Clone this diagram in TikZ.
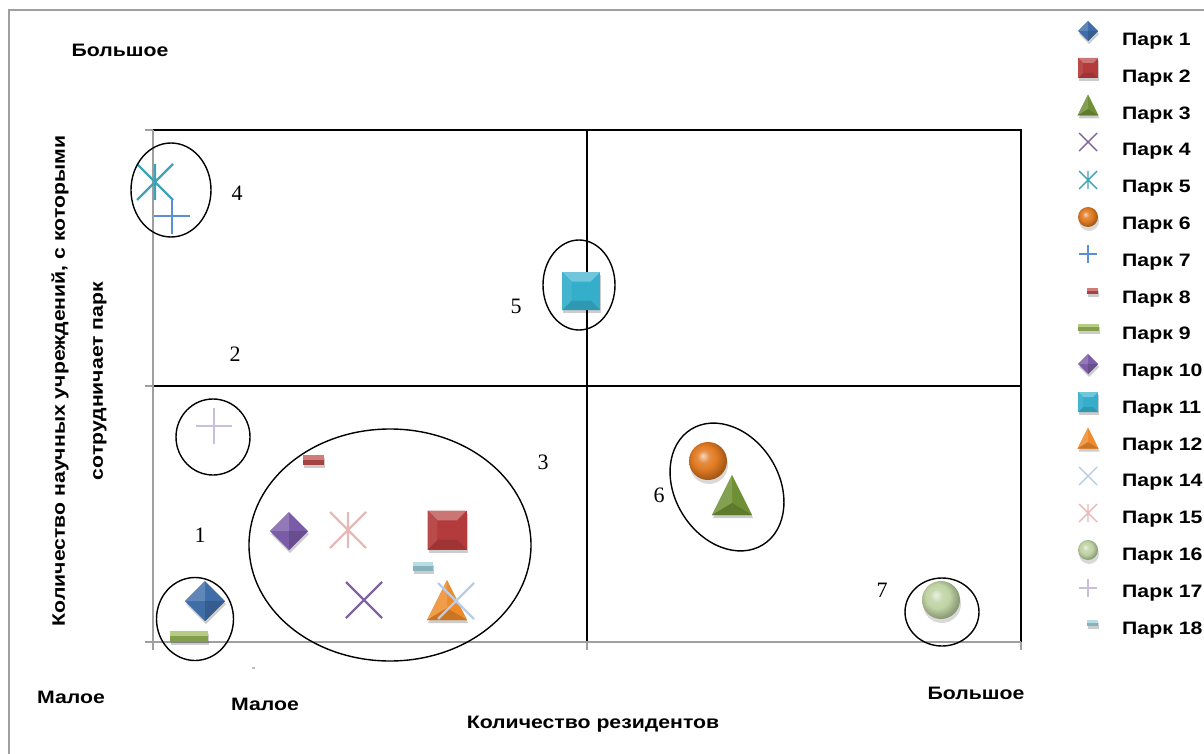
\documentclass[tikz,border=0pt]{standalone}
\usepackage{fontspec}
\setmainfont{Liberation Sans}[FakeStretch=1.18]
\newfontfamily\numfont{Liberation Serif}
\usetikzlibrary{shapes.geometric,shadows}

\definecolor{p1}{HTML}{3E6DA8}
\definecolor{p2}{HTML}{B33B3B}
\definecolor{p3}{HTML}{6E8F35}
\definecolor{p4}{HTML}{8064A2}
\definecolor{p5}{HTML}{3FA3B5}
\definecolor{p6}{HTML}{E07A22}
\definecolor{p7}{HTML}{5B8FD3}
\definecolor{p8}{HTML}{C0504D}
\definecolor{p9}{HTML}{9BBB59}
\definecolor{p10}{HTML}{7A5BA8}
\definecolor{p11}{HTML}{35AECB}
\definecolor{p12}{HTML}{EE8A2A}
\definecolor{p14}{HTML}{B9CDE5}
\definecolor{p15}{HTML}{E6B9B8}
\definecolor{p16}{HTML}{BFD3A3}
\definecolor{p17}{HTML}{C9BFDD}
\definecolor{p18}{HTML}{9FD0DE}
\colorlet{sphc}{p6}
\pgfdeclareradialshading[sphc]{sphere}{\pgfpoint{-7bp}{7bp}}{%
  color(0bp)=(sphc!30!white); color(8bp)=(sphc!85!white); color(16bp)=(sphc);
  color(26bp)=(sphc!75!black); color(34bp)=(sphc!65!black); color(50bp)=(sphc!65!black)}

\tikzset{
  lbl/.style={font=\fontsize{18}{38}\selectfont\bfseries, inner sep=0pt},
  num/.style={font=\numfont\fontsize{22}{24}\selectfont, inner sep=0pt},
  grp/.style={draw, ellipse, line width=1.4pt, inner sep=0pt},
  axisline/.style={draw=gray!75, line width=1.3pt},
  quad/.style={line width=1.3pt},
  shd/.style={drop shadow={fill=black, opacity=0.2, shadow xshift=1pt, shadow yshift=-3pt}},
}

% markers: x, y, size, colour (or line style)
\newcommand{\mdia}[4]{%
  \begin{scope}[shift={(#1,#2)},scale=#3]
    \fill[#4, shd] (-1,0) -- (0,-1) -- (1,0) -- (0,1) -- cycle;
    \fill[#4!82!white] (-1,0) -- (0,-1) -- (0,0) -- cycle;
    \fill[#4!85!black] (0,1) -- (1,0) -- (0,0) -- cycle;
  \end{scope}}
\newcommand{\msq}[4]{%
  \begin{scope}[shift={(#1,#2)},scale=#3]
    \fill[#4, shd] (-1,-1) rectangle (1,1);
    \fill[#4!70!white] (-1,-1) -- (1,-1) -- (0.5,-0.5) -- (-0.5,-0.5) -- cycle;
    \fill[#4!88!black] (-1,1) -- (1,1) -- (0.5,0.5) -- (-0.5,0.5) -- cycle;
    \fill[#4!92!white] (-1,-1) -- (-0.5,-0.5) -- (-0.5,0.5) -- (-1,1) -- cycle;
  \end{scope}}
\newcommand{\mtri}[4]{%
  \begin{scope}[shift={(#1,#2)},scale=#3]
    \fill[#4, shd] (0,-1) -- (1,1) -- (-1,1) -- cycle;
    \fill[#4!85!white] (0,-1) -- (-1,1) -- (0,0.4) -- cycle;
    \fill[#4!85!black] (-1,1) -- (1,1) -- (0,0.4) -- cycle;
  \end{scope}}
\newcommand{\mball}[4]{%
  \begin{scope}[shift={(#1,#2)}]
    \colorlet{sphc}{#4}
    \fill[black, opacity=0.15] (1,4) circle[radius=#3pt];
    \shade[shading=sphere] (0,0) circle[radius=#3pt];
  \end{scope}}
\newcommand{\mbar}[5]{%
  \begin{scope}[shift={(#1,#2)}]
    \fill[#5!85!black, shd] (-#3,-#4) rectangle (#3,#4);
    \fill[#5!75!white] (-#3,-#4) rectangle (#3,0);
  \end{scope}}
\newcommand{\mcross}[4]{%
  \begin{scope}[shift={(#1,#2)},scale=#3]
    \draw[#4] (-1,-1) -- (1,1) (-1,1) -- (1,-1);
  \end{scope}}
\newcommand{\mplus}[4]{%
  \begin{scope}[shift={(#1,#2)},scale=#3]
    \draw[#4] (-1,0) -- (1,0) (0,-1) -- (0,1);
  \end{scope}}
\newcommand{\mstar}[4]{%
  \begin{scope}[shift={(#1,#2)},scale=#3]
    \draw[#4] (-1,-1) -- (1,1) (-1,1) -- (1,-1) (0,-1) -- (0,1);
  \end{scope}}

\begin{document}
\begin{tikzpicture}[x=1pt,y=-1pt]
\useasboundingbox (0,0) rectangle (1204,754);
\draw[gray!75, line width=1.3pt] (9,754) -- (9,10) -- (1204,10);

% quadrants
\draw[quad] (153,130) -- (1021,130) -- (1021,642);
\draw[quad] (153,386) -- (1021,386);
\draw[quad] (587,130) -- (587,642);
\draw[axisline] (153,130) -- (153,650);
\draw[axisline] (145,642) -- (1021,642);
\foreach \t in {130,386,642} \draw[axisline] (145,\t) -- (153,\t);
\foreach \t in {587,1021} \draw[axisline] (\t,642) -- (\t,650);
\fill[gray!50] (252,667) rectangle (255,669);

% axis titles
\node[lbl] (ybig) at (120,50) {Большое};
\node[lbl] (ysmall) at (71,697) {Малое};
\node[lbl] (xsmall) at (265,704) {Малое};
\node[lbl] (xbig) at (976,693) {Большое};
\node[lbl] (xtitle) at (593,724) {Количество резидентов};
\node[lbl, rotate=90, align=center] (ytitle) at (79,381)
  {Количество научных учреждений, с которыми\\сотрудничает парк};

% parks
\mstar{155}{182}{18}{p5, line width=2.3pt}
\mplus{172}{216}{18}{p7, line width=2.3pt}
\msq{581}{291}{19}{p11}
\mplus{214}{426}{18}{p17, line width=2.3pt}
\mbar{313}{460}{10.5}{5}{p8}
\mdia{289}{531}{19}{p10}
\mstar{348}{530}{18}{p15, line width=2.3pt}
\msq{447}{530}{19.5}{p2}
\mbar{423}{566}{10}{4.5}{p18}
\mcross{364}{600}{18}{p4, line width=2.3pt}
\mtri{447}{600}{20}{p12}
\mcross{456}{601}{18}{p14, line width=2.3pt}
\mdia{205}{601}{20}{p1}
\mbar{189}{636}{19}{5.5}{p9}
\mball{708}{461}{19}{p6}
\mtri{732}{495}{20}{p3}
\mball{941}{600}{19}{p16}

% groups
\node[grp, minimum width=80pt, minimum height=94pt] (g4) at (171,190) {};
\node[grp, minimum width=72pt, minimum height=90pt] (g5) at (579,285) {};
\node[grp, minimum width=74pt, minimum height=76pt] (g2) at (213,437) {};
\node[grp, minimum width=282pt, minimum height=232pt] (g3) at (390,545) {};
\node[grp, minimum width=77pt, minimum height=83pt] (g1) at (195,619) {};
\node[grp, minimum width=136pt, minimum height=104pt, rotate=-58] (g6) at (727,487) {};
\node[grp, minimum width=74pt, minimum height=68pt] (g7) at (942,612) {};
\node[num] (n4) at (237,193) {4};
\node[num] (n2) at (235,354) {2};
\node[num] (n5) at (516,306) {5};
\node[num] (n3) at (543,462) {3};
\node[num] (n1) at (200,535) {1};
\node[num] (n6) at (659,495) {6};
\node[num] (n7) at (882,590) {7};

% legend
\foreach \p [count=\i from 0] in {1,2,3,4,5,6,7,8,9,10,11,12,14,15,16,17,18}
  \node[lbl, anchor=west] (leg\p) at (1122,{41+36.8*\i}) {Парк \p};
\mdia{1088}{31}{10}{p1}
\msq{1088}{68}{10}{p2}
\mtri{1088}{105}{10.5}{p3}
\mcross{1088}{142}{9}{p4, line width=1.4pt}
\mstar{1088}{180}{9}{p5, line width=1.4pt}
\mball{1088}{217}{10}{p6}
\mplus{1088}{254}{9}{p7, line width=1.4pt}
\mbar{1092}{291}{5.5}{3}{p8}
\mbar{1088}{327}{10.5}{3.5}{p9}
\mdia{1088}{364}{10}{p10}
\msq{1088}{402}{10}{p11}
\mtri{1088}{438}{10.5}{p12}
\mcross{1088}{476}{9}{p14, line width=1.4pt}
\mstar{1088}{513}{9}{p15, line width=1.4pt}
\mball{1088}{550}{10}{p16}
\mplus{1088}{588}{9}{p17, line width=1.4pt}
\mbar{1092}{623}{5.5}{3}{p18}
\end{tikzpicture}
\end{document}
